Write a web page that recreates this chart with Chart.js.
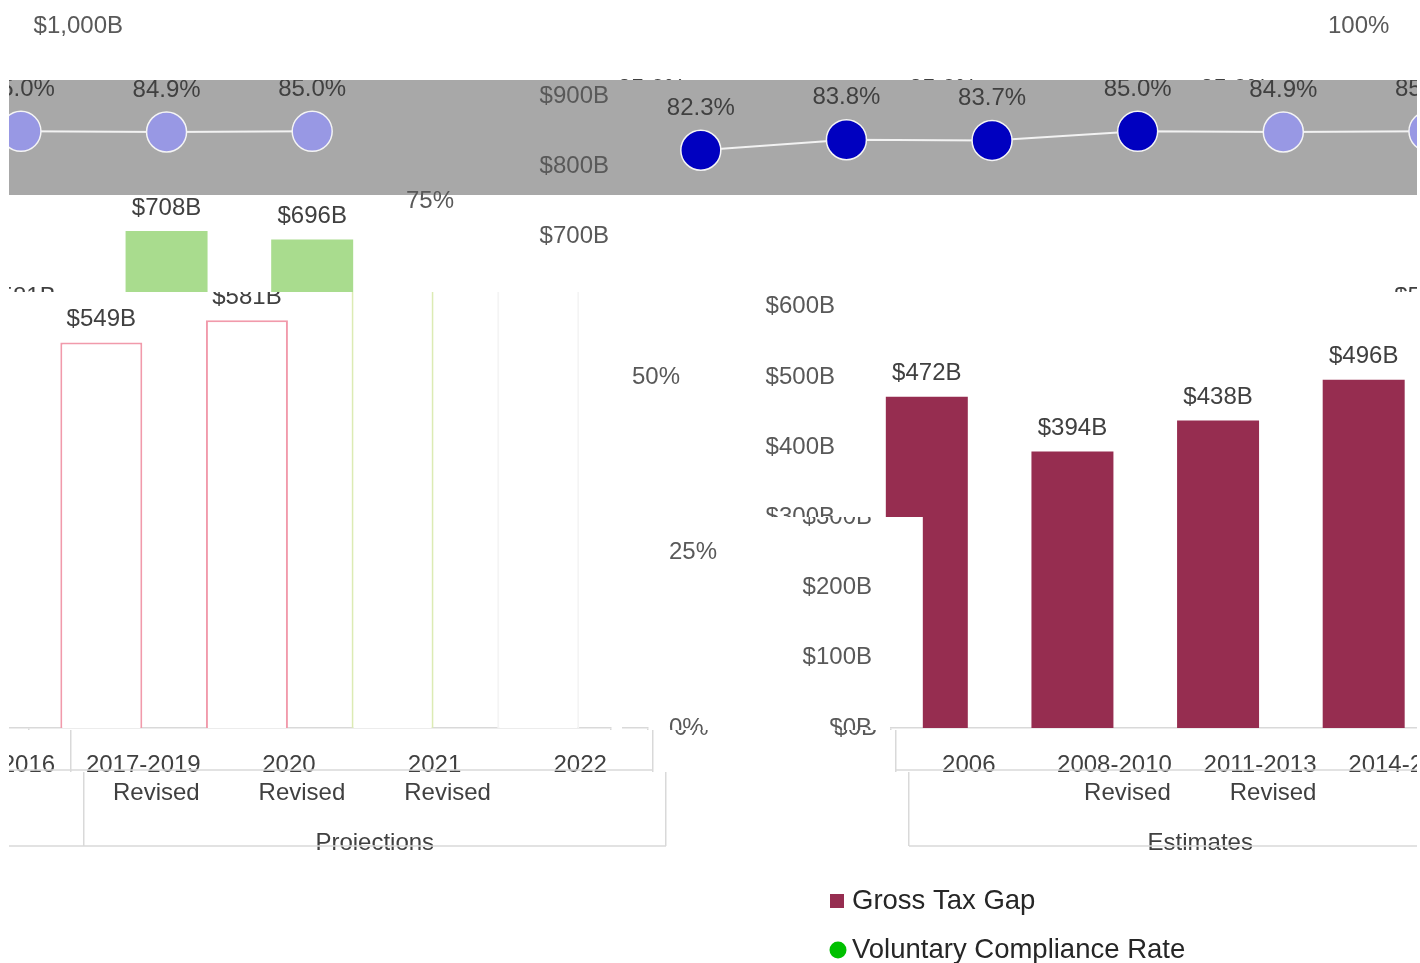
<!DOCTYPE html>
<html>
<head>
<meta charset="utf-8">
<title>Gross Tax Gap and Voluntary Compliance Rate</title>
<script src="https://cdn.jsdelivr.net/npm/chart.js@4.4.1/dist/chart.umd.min.js"></script>
<style>
  html, body { margin: 0; padding: 0; background: #fff; }
  #out { display: block; }
  #work { position: absolute; left: -3000px; top: 0; }
</style>
</head>
<body>
<canvas id="out" width="1420" height="963"></canvas>
<div id="work">
  <canvas id="srcMain" width="1408" height="963"></canvas>
  <canvas id="srcAlt" width="1408" height="963"></canvas>
</div>
<script>
// ===== Data =====
const categories = [
  ["2006"],
  ["2008-2010", "Revised"],
  ["2011-2013", "Revised"],
  ["2014-2016"],
  ["2017-2019", "Revised"],
  ["2020", "Revised"],
  ["2021", "Revised"],
  ["2022"]
];
const phases = ["Estimates", "Estimates", "Estimates", "Estimates",
                "Projections", "Projections", "Projections", "Projections"];
const groupLabels = ["Estimates", "Projections"];

const grossTaxGap = [472, 394, 438, 496, 549, 581, 708, 696];        // $ billions
const complianceRate = [82.3, 83.8, 83.7, 85.0, 84.9, 85.0, 84.9, 85.0]; // percent

const dollarTicks = [0, 100, 200, 300, 400, 500, 600, 700, 800, 900, 1000];
const percentTicks = [0, 25, 50, 75, 100];

// ===== Styles =====
const FONT = "'Liberation Sans', Arial, sans-serif";
const MAROON = "#962d50";
const DOT_EST = "#0000c0";
const DOT_PROJ = "#9898e4";
const RULE = "#d9d9d9";
const LEGEND_SWATCH = { "Gross Tax Gap": MAROON, "Voluntary Compliance Rate": "#00c000" };
// outline of the hollow projection bars, per category
const projOutline = [null, null, null, null, "#f19aab", "#f19aab", "#dcebb4", "#f4f4f4"];

Chart.defaults.font.family = FONT;

// ===== Plugins =====
const valueLabels = {
  id: "valueLabels",
  afterDatasetsDraw(chart) {
    const ctx = chart.ctx;
    ctx.save();
    ctx.font = "24px " + FONT;
    ctx.fillStyle = "#404040";
    ctx.textAlign = "center";
    ctx.textBaseline = "middle";
    chart.data.datasets.forEach((ds, i) => {
      const meta = chart.getDatasetMeta(i);
      meta.data.forEach((el, j) => {
        const v = ds.data[j];
        if (ds.type === "line") {
          ctx.fillText(v.toFixed(1) + "%", el.x, el.y - 42);
        } else {
          ctx.fillText("$" + v + "B", el.x, el.y - 23);
        }
      });
    });
    ctx.restore();
  }
};

// thin rules between the two label levels and under the group labels
const axisRules = {
  id: "axisRules",
  afterDraw(chart) {
    const { ctx, chartArea } = chart;
    const x2 = chart.scales.x2;
    ctx.save();
    ctx.strokeStyle = RULE;
    ctx.lineWidth = 1.5;
    [chartArea.bottom + 42, x2.bottom - 4].forEach(y => {
      ctx.beginPath();
      ctx.moveTo(chartArea.left, y);
      ctx.lineTo(chartArea.right, y);
      ctx.stroke();
    });
    ctx.restore();
  }
};

const stackedLegend = {
  id: "stackedLegend",
  afterDraw(chart) {
    const ctx = chart.ctx;
    const left = chart.chartArea.left - 24;
    const rows = [chart.height - 62, chart.height - 13];
    const order = ["Gross Tax Gap", "Voluntary Compliance Rate"];
    ctx.save();
    ctx.font = "27.5px " + FONT;
    ctx.textBaseline = "middle";
    ctx.textAlign = "left";
    order.forEach((name, i) => {
      const y = rows[i];
      ctx.fillStyle = LEGEND_SWATCH[name];
      if (i === 0) {
        ctx.fillRect(left, y - 7, 14, 14);
      } else {
        ctx.beginPath();
        ctx.arc(left + 8, y, 8.5, 0, Math.PI * 2);
        ctx.fill();
      }
      ctx.fillStyle = "#262626";
      ctx.fillText(name, left + 22, y);
    });
    ctx.restore();
  }
};

// ===== Chart config =====
function buildConfig(projFill, outlined) {
  const isEst = p => p === "Estimates";
  return {
    type: "bar",
    data: {
      labels: categories,
      datasets: [
        {
          type: "line",
          label: "Voluntary Compliance Rate",
          data: complianceRate,
          yAxisID: "y2",
          borderColor: "rgba(245,245,245,0.95)",
          borderWidth: 2,
          pointRadius: 20,
          pointHoverRadius: 20,
          pointBackgroundColor: phases.map(p => isEst(p) ? DOT_EST : DOT_PROJ),
          pointBorderColor: "#f4f4f4",
          pointBorderWidth: 1.5
        },
        {
          type: "bar",
          label: "Gross Tax Gap",
          data: grossTaxGap,
          yAxisID: "y",
          backgroundColor: phases.map(p => isEst(p) ? MAROON : projFill),
          borderColor: phases.map((p, i) => isEst(p) ? MAROON : (projOutline[i] || projFill)),
          borderWidth: phases.map(p => (isEst(p) || !outlined) ? 0 : 2),
          categoryPercentage: 1,
          barPercentage: 0.563
        }
      ]
    },
    options: {
      responsive: false,
      maintainAspectRatio: false,
      devicePixelRatio: 1,
      animation: false,
      layout: { padding: { top: 26, bottom: 113, left: 0, right: 0 } },
      plugins: { legend: { display: false }, tooltip: { enabled: false } },
      scales: {
        x: {
          type: "category",
          position: "bottom",
          offset: true,
          grid: {
            offset: true,
            drawOnChartArea: false,
            drawTicks: true,
            tickLength: 78,
            lineWidth: 1.5,
            color: c => (c.index === undefined || c.index % 4 === 0) ? RULE : "rgba(0,0,0,0)"
          },
          border: { display: true, color: RULE, width: 1.5 },
          ticks: {
            padding: -55,
            autoSkip: false,
            maxRotation: 0,
            color: "#404040",
            font: { size: 24, lineHeight: 1.17 }
          },
          afterFit: s => { s.height = 78; s.paddingLeft = 0; s.paddingRight = 0; }
        },
        x2: {
          type: "category",
          labels: groupLabels,
          position: "bottom",
          offset: true,
          weight: 1,
          grid: { offset: true, drawOnChartArea: false, drawTicks: true, tickLength: 40, lineWidth: 1.5, color: RULE },
          border: { display: false },
          ticks: { padding: -17, color: "#404040", font: { size: 24 } },
          afterFit: s => { s.height = 44; s.paddingLeft = 0; s.paddingRight = 0; }
        },
        y: {
          position: "left",
          min: 0,
          max: 1000,
          afterBuildTicks: s => { s.ticks = dollarTicks.map(v => ({ value: v })); },
          grid: { display: false, drawTicks: false },
          border: { display: false },
          ticks: {
            padding: 19,
            color: "#595959",
            font: { size: 24 },
            callback: v => "$" + Number(v).toLocaleString("en-US") + "B"
          },
          afterFit: s => { s.width = 114; s.paddingTop = 0; s.paddingBottom = 0; }
        },
        y2: {
          position: "right",
          min: 0,
          max: 100,
          afterBuildTicks: s => { s.ticks = percentTicks.map(v => ({ value: v })); },
          grid: { display: false, drawTicks: false },
          border: { display: false },
          ticks: {
            padding: 21,
            color: "#595959",
            font: { size: 24 },
            callback: v => v + "%"
          },
          afterFit: s => { s.width = 129; s.paddingTop = 0; s.paddingBottom = 0; }
        }
      }
    },
    plugins: [valueLabels, axisRules, stackedLegend]
  };
}

const mainChart = new Chart(document.getElementById("srcMain"), buildConfig("#ffffff", true));
const altChart = new Chart(document.getElementById("srcAlt"), buildConfig("#a9dc8e", false));

// ===== Band composition (shifted, wrapped strips as in the reference) =====
const WRAP = 1408;
const LEFT = 9;
const BASE_SHIFT = 731;
const bands = [
  { y0: 0,   y1: 80,  dx: 696 },
  { y0: 80,  y1: 195, dx: -226, fill: "#a8a8a8" },
  { y0: 195, y1: 292, dx: -226, alt: true },
  { y0: 292, y1: 730, dx: 0 },
  { y0: 517, y1: 730, dx: 37, xs: [[622, 726], [742, 923]] },
  { y0: 730, y1: 772, dx: 42 },
  { y0: 772, y1: 850, dx: 55 },
  { y0: 850, y1: 963, dx: 0 }
];

function compose() {
  const out = document.getElementById("out");
  const ctx = out.getContext("2d");
  ctx.fillStyle = "#ffffff";
  ctx.fillRect(0, 0, out.width, out.height);
  bands.forEach(b => {
    const src = b.alt ? altChart.canvas : mainChart.canvas;
    const h = b.y1 - b.y0;
    const x0 = LEFT + (((BASE_SHIFT + b.dx) % WRAP) + WRAP) % WRAP;
    ctx.save();
    ctx.beginPath();
    if (b.xs) {
      b.xs.forEach(([a, z]) => ctx.rect(a, b.y0, z - a, h));
      ctx.clip();
      ctx.fillStyle = "#ffffff";
      ctx.fill();
    } else {
      ctx.rect(LEFT, b.y0, WRAP, h);
      ctx.clip();
    }
    if (b.fill) {
      ctx.fillStyle = b.fill;
      ctx.fillRect(LEFT, b.y0, WRAP, h);
    }
    ctx.drawImage(src, 0, b.y0, WRAP, h, x0, b.y0, WRAP, h);
    ctx.drawImage(src, 0, b.y0, WRAP, h, x0 - WRAP, b.y0, WRAP, h);
    ctx.restore();
  });
}

compose();
</script>
</body>
</html>
